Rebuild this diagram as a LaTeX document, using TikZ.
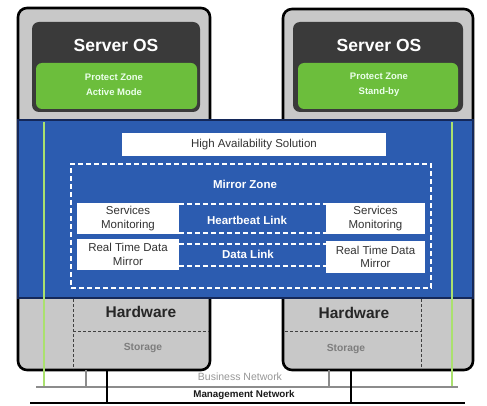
\documentclass[tikz,border=0pt]{standalone}
\usepackage{fontspec}
\setmainfont{Liberation Sans}
\definecolor{srvgray}{RGB}{200,200,200}
\definecolor{osdark}{RGB}{58,58,58}
\definecolor{pzgreen}{RGB}{108,190,60}
\definecolor{haBlue}{RGB}{44,92,176}
\definecolor{haNavy}{RGB}{20,40,90}
\definecolor{linegreen}{RGB}{170,225,110}
\definecolor{netgray}{RGB}{140,140,140}
\definecolor{txtgray}{RGB}{125,125,125}
\begin{document}
\begin{tikzpicture}[x=1pt,y=-1pt,
  every node/.style={inner sep=0pt,outer sep=0pt},
  server/.style={draw=black,line width=2.6pt,fill=srvgray,rounded corners=9pt,anchor=north west},
  osbox/.style={fill=osdark,rounded corners=7pt,anchor=north west},
  pzbox/.style={fill=pzgreen,rounded corners=6pt,anchor=north west},
  whitebox/.style={fill=white,anchor=north west},
  ostext/.style={text=white,font=\bfseries\fontsize{17.5}{20}\selectfont},
  pztext/.style={text=white!92!green,font=\bfseries\fontsize{9.5}{15}\selectfont,align=center},
  boxtext/.style={text=black!80,font=\fontsize{11.5}{13.5}\selectfont,align=center},
  linktext/.style={text=white,font=\bfseries\fontsize{11.5}{13}\selectfont},
  wdash/.style={draw=white,line width=1.3pt,dash pattern=on 5pt off 3pt},
  kdash/.style={draw=black!75,line width=1pt,dash pattern=on 3pt off 2pt},
  hwtext/.style={text=black!85,font=\bfseries\fontsize{15.5}{18}\selectfont},
  sttext/.style={text=txtgray,font=\bfseries\fontsize{10.3}{12}\selectfont},
  glink/.style={draw=linegreen,line width=1.6pt},
]
\useasboundingbox (0,0) rectangle (487,406);
% servers
\node[server,minimum width=192pt,minimum height=362pt] (srvL) at (18,8) {};
\node[server,minimum width=190pt,minimum height=361pt] (srvR) at (283,9) {};
% OS boxes
\node[osbox,minimum width=168pt,minimum height=90pt] (osL) at (32,22) {};
\node[osbox,minimum width=170pt,minimum height=90pt] (osR) at (293,22) {};
\node[pzbox,minimum width=161pt,minimum height=46pt] (pzL) at (36,63) {};
\node[pzbox,minimum width=160pt,minimum height=46pt] (pzR) at (298,63) {};
\node[ostext] (osLt) at (116,45) {Server OS};
\node[ostext] (osRt) at (379,45) {Server OS};
\node[pztext] (pzLt) at (114,85) {Protect Zone\\Active Mode};
\node[pztext] (pzRt) at (379,85) {Protect Zone\\Stand-by};
% blue band
\node[draw=haNavy,line width=1.5pt,fill=haBlue,anchor=north west,minimum width=455pt,minimum height=178pt] (band) at (18,120) {};
% green lines
\coordinate (gL1) at (44,122);
\coordinate (gL2) at (44,387);
\coordinate (gR1) at (452,122);
\coordinate (gR2) at (452,387);
\draw[glink] (gL1) -- (gL2);
\draw[glink] (gR1) -- (gR2);
% title
\node[whitebox,minimum width=264pt,minimum height=23pt] (title) at (122,133) {};
\node[text=black!80,font=\fontsize{11.5}{13}\selectfont] (titlet) at (254,145) {High Availability Solution};
% mirror zone
\node[wdash,anchor=north west,minimum width=360pt,minimum height=124pt] (mz) at (71,164) {};
\node[linktext,font=\bfseries\fontsize{11.5}{13}\selectfont] (mzt) at (245,184) {Mirror Zone};
% white boxes
\node[whitebox,minimum width=102pt,minimum height=31pt] (smL) at (77,203) {};
\node[whitebox,minimum width=102pt,minimum height=31pt] (rtL) at (77,239) {};
\node[whitebox,minimum width=99pt,minimum height=31pt] (smR) at (326,203) {};
\node[whitebox,minimum width=99pt,minimum height=32pt] (rtR) at (326,241) {};
\node[boxtext] at (smL.center) {Services\\Monitoring};
\node[boxtext] at (rtL.center) {Real Time Data\\Mirror};
\node[boxtext] at (smR.center) {Services\\Monitoring};
\node[boxtext] at (rtR.center) {Real Time Data\\Mirror};
% links
\coordinate (hb1) at (179,204); \coordinate (hb2) at (326,204);
\coordinate (hb3) at (179,233); \coordinate (hb4) at (326,233);
\coordinate (dl1) at (179,244); \coordinate (dl2) at (326,244);
\coordinate (dl3) at (179,266); \coordinate (dl4) at (326,266);
\draw[wdash] (hb1) -- (hb2);
\draw[wdash] (hb3) -- (hb4);
\draw[wdash] (dl1) -- (dl2);
\draw[wdash] (dl3) -- (dl4);
\node[linktext] (hbt) at (247,220) {Heartbeat Link};
\node[linktext] (dlt) at (248,254) {Data Link};
% hardware
\coordinate (hwL1) at (73,299); \coordinate (hwL2) at (73,369);
\coordinate (hwL3) at (73,331); \coordinate (hwL4) at (209,331);
\coordinate (hwR1) at (421,299); \coordinate (hwR2) at (421,369);
\coordinate (hwR3) at (285,331); \coordinate (hwR4) at (421,331);
\draw[kdash] (hwL1) -- (hwL2);
\draw[kdash] (hwL3) -- (hwL4);
\draw[kdash] (hwR1) -- (hwR2);
\draw[kdash] (hwR3) -- (hwR4);
\node[hwtext] (hwLt) at (141,312) {Hardware};
\node[hwtext] (hwRt) at (354,313) {Hardware};
\node[sttext] (stLt) at (143,348) {Storage};
\node[sttext] (stRt) at (346,349) {Storage};
% networks
\coordinate (bn1) at (36,387); \coordinate (bn2) at (458,387);
\coordinate (mn1) at (30,403); \coordinate (mn2) at (465,403);
\draw[netgray,line width=1.8pt] (bn1) -- (bn2);
\draw[black,line width=2pt] (mn1) -- (mn2);
\draw[netgray,line width=1.8pt] (srvL.south west -| 86,0) -- (86,387);
\draw[black,line width=2pt] (srvL.south west -| 107,0) -- (107,403);
\draw[netgray,line width=1.8pt] (srvR.south west -| 329,0) -- (329,387);
\draw[black,line width=2pt] (srvR.south west -| 351,0) -- (351,403);
\node[text=txtgray!80,font=\fontsize{10.5}{12}\selectfont] (bnt) at (240,377) {Business Network};
\node[text=black!90,font=\bfseries\fontsize{9.8}{12}\selectfont] (mnt) at (244,395) {Management Network};
\end{tikzpicture}
\end{document}
